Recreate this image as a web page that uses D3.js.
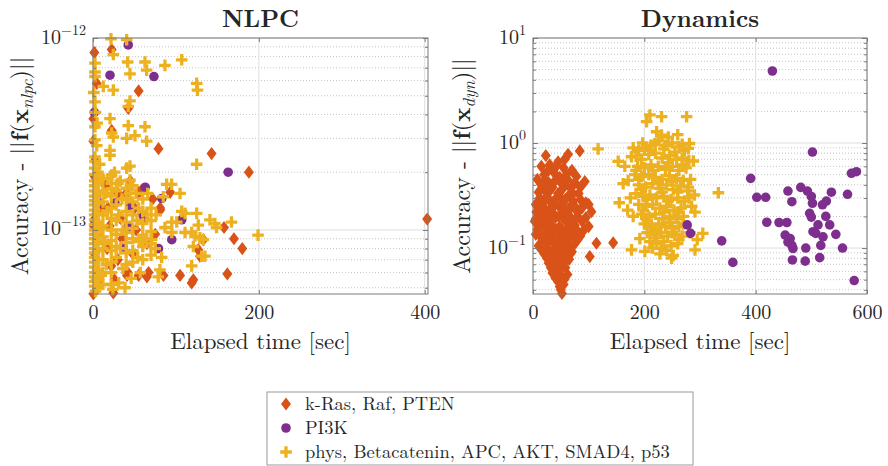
<!DOCTYPE html>
<html>
<head>
<meta charset="utf-8">
<script src="https://cdn.jsdelivr.net/npm/d3@7"></script>
<style>
  html, body { margin: 0; padding: 0; background: #fff; }
  svg { display: block; }
</style>
</head>
<body>
<svg id="chart" width="888" height="466"></svg>
<script>
// ---------------- DATA ----------------
const seriesNames = ["k-Ras, Raf, PTEN", "PI3K", "phys, Betacatenin, APC, AKT, SMAD4, p53"];
const seriesColors = ["#D95319", "#7E2F8E", "#EDB120"];

// NLPC panel: [elapsed time (s), accuracy]
const nlpcKRas = [
  [1.6,8.4e-13],[22.5,8.7e-13],[4.5,5.8e-13],[55,5.3e-13],[42.5,4.3e-13],[0.4,3.8e-13],[22.5,3.3e-13],
  [0.4,2.9e-13],[79,2.65e-13],[2.4,2.3e-13],[143,2.5e-13],[188,2.0e-13],[81,1.3e-13],[93,1.57e-13],
  [55,1.57e-13],[403,1.14e-13],[158,1.03e-13],[170,9.0e-14],[180,8.0e-14],[133,8.9e-14],[129,7.3e-14],
  [162,5.9e-14],[121,5.5e-14],[105,5.8e-14],[65,5.7e-14],[41,5.8e-14],[24.5,4.7e-14],[0.4,4.65e-14],
  [127,7.9e-14],[119,5.3e-14],[85,5.8e-14],[67,6.0e-14],[55,5.8e-14],[42,6.0e-14],[81,1.27e-13],
  [2,1.9e-13],[4,1.5e-13],[3,1.2e-13],[5,9.5e-14],[2,7.5e-14],[4,6.0e-14],[15,1.7e-13],[18,1.3e-13],
  [20,1.05e-13],[17,8.0e-14],[22,6.5e-14],[30,1.55e-13],[33,1.15e-13],[35,9.0e-14],[30,7.0e-14],
  [45,1.8e-13],[50,1.3e-13],[52,1.0e-13],[48,7.5e-14],[58,1.6e-13],[62,1.15e-13],[65,8.5e-14],
  [72,1.45e-13],[75,9.5e-14],[40,1.55e-13],[10,1.3e-13],[8,5.5e-14],[26,5.5e-14],[1,1.05e-13]
];
const nlpcPI3K = [
  [42.5,9.2e-13],[20.5,6.4e-13],[73.5,6.3e-13],[1.6,4.1e-13],[163,2.0e-13],[63,1.67e-13],[83,1.46e-13],
  [8.4,1.38e-13],[26.5,1.38e-13],[44.6,1.32e-13],[107,1.13e-13],[95,8.9e-14],[79,8.0e-14],
  [42.5,1.04e-13],[36.5,8.1e-14],[2,1.12e-13],[60,1.2e-13]
];
const nlpcPhys = [
  [21.7,9.9e-13],[40.6,9.8e-13],[24.5,8.2e-13],[2.4,7.4e-13],[2.4,6.65e-13],[2.4,6.3e-13],[41.8,7.5e-13],
  [44.6,6.5e-13],[62.7,7.5e-13],[64.7,6.8e-13],[86.8,7.2e-13],[107,7.7e-13],[125,5.8e-13],[126,5.35e-13],
  [12.4,5.6e-13],[24.5,5.35e-13],[44.6,4.7e-13],[42.5,4.4e-13],[2.4,4.65e-13],[20.5,3.8e-13],
  [42.5,3.5e-13],[62.7,3.45e-13],[50.6,3.1e-13],[40.6,3.0e-13],[64.7,2.9e-13],[22.5,3.2e-13],[24.5,3.05e-13],
  [2.4,3.45e-13],[2.4,2.95e-13],[4.5,2.75e-13],[20.5,2.6e-13],[20.5,2.45e-13],[2.4,2.4e-13],[2.4,2.27e-13],
  [44.6,2.15e-13],[125,2.2e-13],[3,4.1e-13],[5,3.6e-13],[1,5.2e-13],
  [88.8,1.73e-13],[94.8,1.73e-13],[105,1.55e-13],[84.7,1.49e-13],[107,1.25e-13],[125,1.22e-13],[101,1.1e-13],
  [141,1.13e-13],[149,1.03e-13],[167,1.1e-13],[119,9.7e-14],[129,9.1e-14],[121,8.2e-14],[135,7.3e-14],
  [119,6.5e-14],[199,9.4e-14],[38.6,5.0e-14],[4.5,5.5e-14],[22.5,1.93e-13],[40.6,2.1e-13],[44.6,1.82e-13],
  [22.5,1.64e-13],[44.6,1.55e-13],[111,1.22e-13],[147,1.08e-13],[127,1.06e-13],[95,1.1e-13],[86.8,1.03e-13],
  [95,9.7e-14],[111,9.7e-14],[123,9.3e-14],[133,8.9e-14],[131,7.3e-14],[82.8,7.2e-14],[70.7,8.9e-14],
  [80.7,6.2e-14],[78.7,5.7e-14],[24,4.9e-14],
  [2,2.1e-13],[2,1.95e-13],[2,1.8e-13],[2,1.7e-13],[2,1.6e-13],[2,1.5e-13],[2,1.42e-13],[2,1.35e-13],
  [2,1.27e-13],[2,1.2e-13],[2,1.13e-13],[2,1.07e-13],[2,1.0e-13],[2,9.5e-14],[2,9.0e-14],[2,8.5e-14],
  [2,8.0e-14],[2,7.6e-14],[2,7.2e-14],[2,6.8e-14],[2,6.4e-14],[2,6.0e-14],[2,5.7e-14],[2,5.4e-14],[2,5.1e-14],
  [6,2.0e-13],[6,1.75e-13],[6,1.55e-13],[6,1.38e-13],[6,1.22e-13],[6,1.1e-13],[6,9.8e-14],[6,8.8e-14],
  [6,7.8e-14],[6,7.0e-14],[6,6.2e-14],[6,5.0e-14],
  [12,1.85e-13],[12,1.6e-13],[12,1.4e-13],[12,1.2e-13],[12,1.05e-13],[12,9.2e-14],[12,8.0e-14],[12,7.0e-14],[12,6.0e-14],
  [22,1.75e-13],[22,1.5e-13],[22,1.3e-13],[22,1.15e-13],[22,1.0e-13],[22,8.8e-14],[22,7.8e-14],[22,6.8e-14],[22,6.0e-14],[22,5.2e-14],
  [28,1.6e-13],[28,1.35e-13],[28,1.12e-13],[28,9.5e-14],[28,8.2e-14],[28,7.2e-14],
  [40,1.65e-13],[40,1.45e-13],[40,1.25e-13],[40,1.1e-13],[40,9.7e-14],[40,8.6e-14],[40,7.6e-14],[40,6.6e-14],
  [48,1.7e-13],[48,1.4e-13],[48,1.2e-13],[48,1.02e-13],[48,9.0e-14],[48,7.8e-14],[48,6.8e-14],
  [60,1.45e-13],[60,1.25e-13],[60,1.08e-13],[60,9.4e-14],[60,8.2e-14],[60,7.0e-14],
  [70,1.3e-13],[70,1.12e-13],[70,9.8e-14],[70,8.5e-14],[70,7.4e-14],
  [8,1.9e-13],[15,1.55e-13],[17,1.25e-13],[9,1.02e-13],[14,8.5e-14],[16,6.6e-14],[10,5.8e-14],
  [33,1.8e-13],[35,1.45e-13],[31,1.2e-13],[36,1.0e-13],[33,8.0e-14],[36,6.3e-14],[52,1.55e-13],
  [55,1.3e-13],[53,1.12e-13],[56,8.7e-14],[54,7.2e-14],[66,1.55e-13],[65,1.2e-13],[64,9.0e-14],
  [76,1.2e-13],[75,8.0e-14],[31,5.3e-14],[46,5.6e-14],[57,6.0e-14],[3,4.8e-14],[12,5.2e-14],
  [18,1.85e-13],[26,2.0e-13],[8,2.2e-13],[30,1.75e-13]
];

// Dynamics panel: [elapsed time (s), accuracy]
const dynKRas = [
  [23,0.76],[63,0.78],[84,0.84],[30,0.62],[45,0.66],[55,0.58],[70,0.55],[38,0.52],[20,0.50],[48,0.47],
  [62,0.45],[78,0.48],[93,0.43],[28,0.42],[15,0.40],[35,0.38],[52,0.36],[68,0.37],[82,0.33],[10,0.34],
  [25,0.31],[42,0.30],[58,0.29],[72,0.28],[95,0.27],[5,0.26],[18,0.25],[32,0.24],[48,0.245],[65,0.23],
  [80,0.22],[105,0.222],[12,0.21],[25,0.20],[40,0.195],[55,0.19],[70,0.185],[88,0.18],[3,0.18],[18,0.17],
  [33,0.165],[48,0.16],[62,0.155],[78,0.15],[100,0.16],[8,0.15],[22,0.14],[38,0.14],[52,0.135],[68,0.13],
  [85,0.13],[15,0.125],[30,0.12],[45,0.115],[60,0.115],[75,0.11],[10,0.105],[25,0.10],[40,0.10],[55,0.095],
  [70,0.092],[20,0.088],[35,0.085],[50,0.08],[65,0.078],[28,0.072],[42,0.068],[58,0.065],[35,0.058],
  [50,0.055],[62,0.056],[45,0.048],[55,0.045],[50,0.040],[52,0.037],[114,0.111],[144,0.112],[102,0.083],
  [46,0.20],[60,0.22],[30,0.28],[75,0.25],[95,0.195],[12,0.23],[40,0.26],[65,0.32],[50,0.42],[35,0.56],
  [57,0.70],[20,0.36],[85,0.38],[45,0.33],[5,0.19],[100,0.26],[48,0.051],
  [15,0.6],[28,0.55],[42,0.6],[60,0.5],[75,0.42],[8,0.45],[22,0.44],[40,0.44],[58,0.4],[72,0.33],
  [12,0.3],[30,0.35],[50,0.3],[85,0.29],[20,0.28],[35,0.27],[55,0.26],[70,0.26],[88,0.24],[6,0.22],
  [22,0.22],[36,0.215],[52,0.21],[66,0.2],[80,0.2],[15,0.19],[30,0.185],[62,0.175],[75,0.165],[92,0.15],
  [12,0.16],[28,0.155],[42,0.15],[58,0.145],[72,0.14],[5,0.135],[18,0.13],[32,0.13],[48,0.125],[62,0.125],
  [80,0.12],[22,0.115],[38,0.11],[52,0.108],[66,0.1],[15,0.097],[30,0.093],[46,0.09],[60,0.086],[25,0.08],
  [40,0.077],[55,0.072],[32,0.065],[48,0.062],[40,0.052],[56,0.05],[48,0.043]
];
const dynPI3K = [
  [430,4.85],[502,0.82],[572,0.515],[581,0.533],[391,0.461],[402,0.304],[418,0.304],[458,0.349],
  [481,0.378],[493,0.349],[465,0.276],[500,0.31],[502,0.267],[536,0.34],[527,0.28],[520,0.258],
  [565,0.325],[497,0.214],[500,0.197],[420,0.176],[442,0.175],[456,0.175],[526,0.20],[512,0.166],
  [533,0.166],[503,0.143],[508,0.138],[521,0.128],[544,0.135],[453,0.133],[462,0.123],[458,0.114],
  [465,0.106],[467,0.099],[490,0.10],[517,0.106],[556,0.10],[466,0.077],[489,0.075],[515,0.081],
  [577,0.049],[339,0.117],[359,0.073],[277,0.166],[283,0.138]
];
const dynPhys = [
  [117,0.88],[153,0.67],[162,0.41],[155,0.27],[171,0.44],[177,0.74],[204,1.60],[210,1.85],[231,1.78],
  [276,1.78],[288,0.674],[279,0.38],[291,0.22],[177,0.096],[201,0.093],[249,0.08],[291,0.096],[192,0.123],
  [305,0.138],[333,0.336],[222,1.28],[231,1.19],[243,1.14],[197,1.0],[219,0.99],[281,0.99],[279,0.89],
  [190,0.85],[200,0.9],[212,0.95],[225,1.05],[238,0.95],[250,1.0],[262,0.92],[272,0.85],[185,0.75],
  [195,0.7],[208,0.78],[220,0.8],[232,0.72],[245,0.76],[258,0.7],[268,0.72],[280,0.68],[188,0.6],
  [200,0.58],[212,0.62],[225,0.6],[238,0.56],[250,0.6],[262,0.55],[275,0.58],[183,0.5],[195,0.48],
  [208,0.5],[220,0.47],[232,0.45],[245,0.49],[258,0.46],[270,0.44],[190,0.4],[202,0.38],[215,0.41],
  [228,0.37],[240,0.4],[252,0.36],[265,0.39],[278,0.35],[185,0.33],[198,0.31],[210,0.32],[222,0.3],
  [235,0.31],[248,0.29],[260,0.3],[272,0.28],[190,0.26],[203,0.25],[215,0.26],[228,0.24],[240,0.25],
  [253,0.23],[266,0.24],[195,0.21],[208,0.2],[220,0.21],[233,0.19],[246,0.2],[258,0.19],[270,0.2],
  [200,0.17],[213,0.16],[226,0.17],[238,0.16],[250,0.155],[262,0.16],[205,0.14],[218,0.135],[230,0.14],
  [242,0.13],[255,0.135],[268,0.13],[210,0.115],[222,0.11],[235,0.115],[248,0.105],[260,0.11],[215,0.1],
  [240,0.095],[228,0.088],[252,0.085],[180,0.2],[175,0.3],[170,0.23],[285,0.25],[290,0.32],[282,0.14],
  [295,0.12],[165,0.6],[180,0.9],[260,1.2],[268,0.97],
  [185,0.55],[215,0.55],[243,0.65],[268,0.62],[190,0.45],[225,0.42],[250,0.43],[283,0.45],[195,0.36],
  [232,0.34],[260,0.34],[205,0.29],[243,0.28],[280,0.3],[198,0.23],[235,0.22],[262,0.22],[205,0.185],
  [245,0.175],[270,0.17],[218,0.15],[250,0.14],[222,0.125],[262,0.12],[230,0.1],[210,0.85],[255,0.82],[235,0.88]
];

// Axis ticks
const nlpcXTicks = [0, 200, 400];
const nlpcYTicks = [1e-13, 1e-12];
const nlpcYTickExp = ["\u221213", "\u221212"];
const nlpcYMinor = [5e-14,6e-14,7e-14,8e-14,9e-14,2e-13,3e-13,4e-13,5e-13,6e-13,7e-13,8e-13,9e-13];
const dynXTicks = [0, 200, 400, 600];
const dynYTicks = [0.1, 1, 10];
const dynYTickExp = ["\u22121", "0", "1"];
const dynYMinor = [0.04,0.05,0.06,0.07,0.08,0.09,0.2,0.3,0.4,0.5,0.6,0.7,0.8,0.9,2,3,4,5,6,7,8,9];

// ---------------- DRAWING ----------------
const svg = d3.select("#chart");
const FONT = "'Latin Modern Roman', 'Liberation Serif', 'Times New Roman', serif";
const TXT = "#262626";

const diamondPath = "M0,-6.6L5,0L0,6.6L-5,0Z";
const plusPath = "M-5.8,0H5.8M0,-5.8V5.8";

function drawMarker(sel, kind, color) {
  if (kind === 0) {
    sel.append("path").attr("d", diamondPath).attr("fill", color);
  } else if (kind === 1) {
    sel.append("circle").attr("r", 4.8).attr("fill", color);
  } else {
    sel.append("path").attr("d", plusPath).attr("stroke", color).attr("stroke-width", 3.3).attr("fill", "none");
  }
}

function panel(cfg) {
  const g = svg.append("g");
  const x = d3.scaleLinear().domain(cfg.xDomain).range([cfg.left, cfg.right]);
  const y = d3.scaleLog().domain(cfg.yDomain).range([cfg.bottom, cfg.top]);

  g.append("g").selectAll("line").data(cfg.yMinor).join("line")
    .attr("x1", cfg.left).attr("x2", cfg.right)
    .attr("y1", d => y(d)).attr("y2", d => y(d))
    .attr("stroke", "#c4c4c4").attr("stroke-width", 1).attr("stroke-dasharray", "1,2");
  g.append("g").selectAll("line").data(cfg.yTicks).join("line")
    .attr("x1", cfg.left).attr("x2", cfg.right)
    .attr("y1", d => y(d)).attr("y2", d => y(d))
    .attr("stroke", "#dedede").attr("stroke-width", 1);
  g.append("g").selectAll("line").data(cfg.xTicks).join("line")
    .attr("x1", d => x(d)).attr("x2", d => x(d))
    .attr("y1", cfg.top).attr("y2", cfg.bottom)
    .attr("stroke", "#dedede").attr("stroke-width", 1);

  cfg.order.forEach(k => {
    const lg = g.append("g");
    cfg.series[k].forEach(d => {
      const m = lg.append("g").attr("transform", `translate(${x(d[0])},${y(d[1])})`);
      drawMarker(m, k, seriesColors[k]);
    });
  });

  const axColor = "#7a7a7a";
  const bottom = g.append("g").attr("transform", `translate(0,${cfg.bottom})`)
    .call(d3.axisBottom(x).tickValues(cfg.xTicks).tickSize(-4).tickPadding(11).tickFormat(d3.format("d")));
  const top = g.append("g").attr("transform", `translate(0,${cfg.top})`)
    .call(d3.axisTop(x).tickValues(cfg.xTicks).tickSize(-4).tickFormat(""));
  const left = g.append("g").attr("transform", `translate(${cfg.left},0)`)
    .call(d3.axisLeft(y).tickValues(cfg.yTicks).tickSize(-5).tickPadding(7).tickFormat(""));
  const right = g.append("g").attr("transform", `translate(${cfg.right},0)`)
    .call(d3.axisRight(y).tickValues(cfg.yTicks).tickSize(-5).tickFormat(""));
  const leftMinor = g.append("g").attr("transform", `translate(${cfg.left},0)`)
    .call(d3.axisLeft(y).tickValues(cfg.yMinor).tickSize(-3).tickFormat(""));
  const rightMinor = g.append("g").attr("transform", `translate(${cfg.right},0)`)
    .call(d3.axisRight(y).tickValues(cfg.yMinor).tickSize(-3).tickFormat(""));
  [bottom, top, left, right, leftMinor, rightMinor].forEach(a => {
    a.select(".domain").remove();
    a.selectAll(".tick line").attr("stroke", axColor);
  });
  bottom.selectAll(".tick text").style("font-family", FONT).attr("font-size", 20).attr("fill", TXT);
  left.selectAll(".tick text").each(function(d, i) {
    const t = d3.select(this);
    t.text(null).style("font-family", FONT).attr("fill", TXT).attr("dy", null);
    t.attr("y", 5);
    t.append("tspan").attr("font-size", 20).text("10");
    t.append("tspan").attr("font-size", 14).attr("dy", -9).text(cfg.yTickExp[i]);
  });

  g.append("rect").attr("x", cfg.left).attr("y", cfg.top)
    .attr("width", cfg.right - cfg.left).attr("height", cfg.bottom - cfg.top)
    .attr("fill", "none").attr("stroke", axColor).attr("stroke-width", 1);

  const cx = (cfg.left + cfg.right) / 2;
  g.append("text").attr("x", cx).attr("y", 27).attr("text-anchor", "middle")
    .style("font-family", FONT).attr("fill", TXT)
    .attr("font-size", 24).attr("font-weight", "bold").text(cfg.title);
  g.append("text").attr("x", cx).attr("y", 349).attr("text-anchor", "middle")
    .style("font-family", FONT).attr("fill", TXT)
    .attr("font-size", 23).text("Elapsed time [sec]");
  const cy = (cfg.top + cfg.bottom) / 2;
  const yl = g.append("text").attr("transform", `translate(${cfg.yLabelX},${cy}) rotate(-90)`)
    .style("font-family", FONT).attr("fill", TXT)
    .attr("text-anchor", "middle").attr("font-size", 24);
  yl.append("tspan").text("Accuracy - ||");
  yl.append("tspan").attr("font-weight", "bold").text("f");
  yl.append("tspan").text("(");
  yl.append("tspan").attr("font-weight", "bold").text("x");
  yl.append("tspan").attr("font-style", "italic").attr("font-size", 17).attr("dy", 5).text(cfg.sub);
  yl.append("tspan").attr("dy", -5).text(")||");
}

panel({
  left: 93, right: 428, top: 38, bottom: 294,
  xDomain: [0, 404], yDomain: [4.64e-14, 1e-12],
  xTicks: nlpcXTicks, yTicks: nlpcYTicks, yTickExp: nlpcYTickExp, yMinor: nlpcYMinor,
  series: [nlpcKRas, nlpcPI3K, nlpcPhys], order: [0, 1, 2],
  title: "NLPC", sub: "nlpc", yLabelX: 28
});
panel({
  left: 533, right: 867, top: 38, bottom: 294,
  xDomain: [0, 600], yDomain: [0.0365, 10],
  xTicks: dynXTicks, yTicks: dynYTicks, yTickExp: dynYTickExp, yMinor: dynYMinor,
  series: [dynKRas, dynPI3K, dynPhys], order: [0, 2, 1],
  title: "Dynamics", sub: "dyn", yLabelX: 470
});

const lg = svg.append("g");
lg.append("rect").attr("x", 267).attr("y", 392).attr("width", 426).attr("height", 73)
  .attr("fill", "#fff").attr("stroke", "#9a9a9a").attr("stroke-width", 1);
seriesNames.forEach((name, i) => {
  const cy = 404 + i * 24;
  const m = lg.append("g").attr("transform", `translate(286,${cy})`);
  drawMarker(m, i, seriesColors[i]);
  lg.append("text").attr("x", 305).attr("y", cy + 6).style("font-family", FONT).attr("fill", TXT)
    .attr("font-size", 18.5).text(name);
});
</script>
</body>
</html>
